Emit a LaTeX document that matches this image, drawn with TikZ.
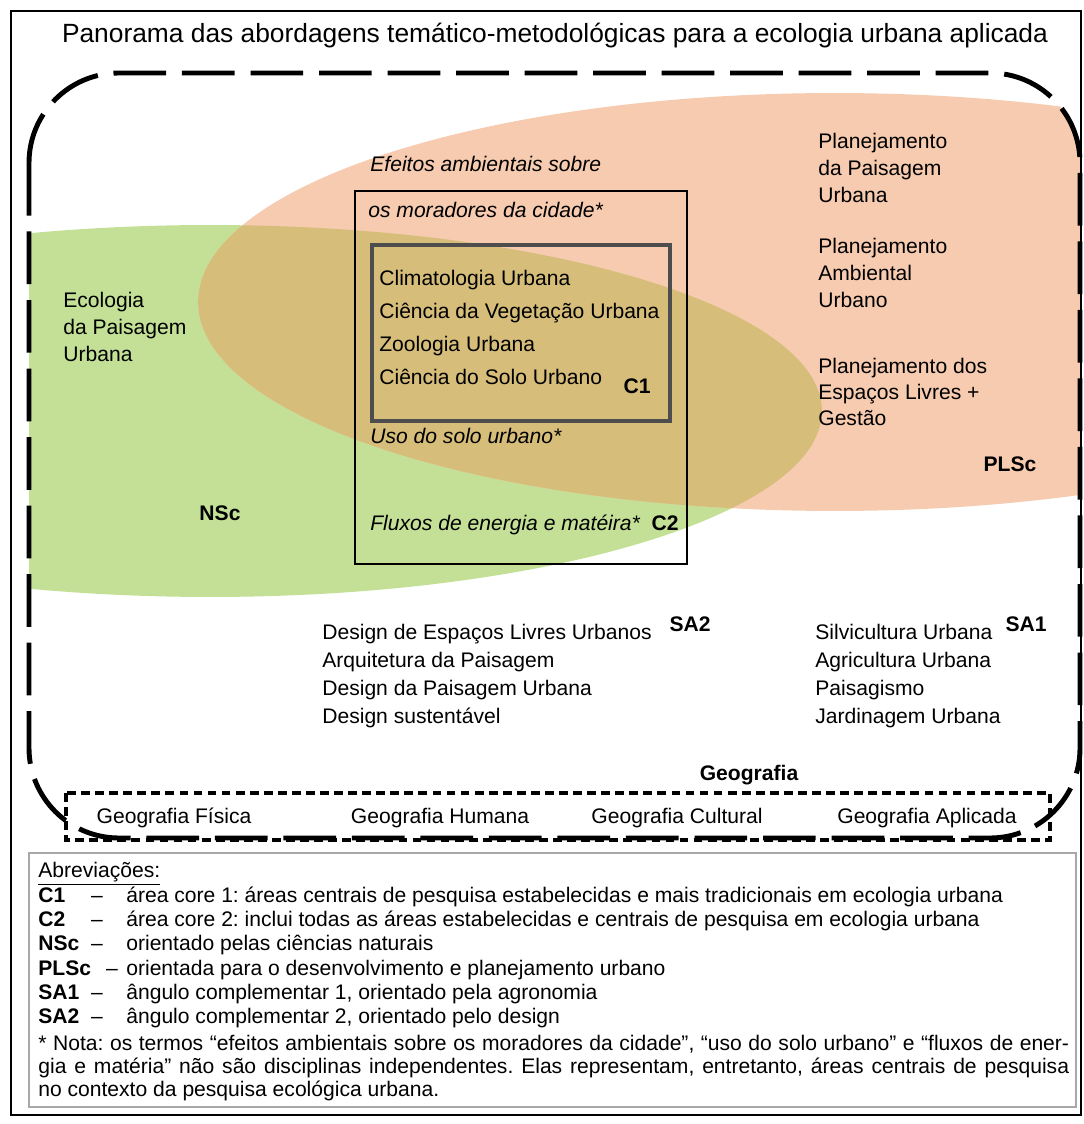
\documentclass[tikz,border=0pt]{standalone}
\usepackage{fontspec}
\setmainfont{Liberation Sans}
\frenchspacing
\definecolor{greenarea}{HTML}{C3E096}
\definecolor{orangearea}{HTML}{F6CBB0}
\definecolor{olivearea}{HTML}{D6BD7A}
\definecolor{coregray}{HTML}{4D4D4D}
\definecolor{legendgray}{HTML}{A8A8A8}
\tikzstyle{txt}=[inner sep=0pt,anchor=west,font=\fontsize{12}{14}\selectfont,text height=8.6pt,text depth=2.5pt]
\tikzstyle{txtit}=[txt,font=\fontsize{12}{14}\selectfont\itshape]
\tikzstyle{abbr}=[txt,anchor=center,font=\fontsize{12}{14}\selectfont\bfseries]
\tikzstyle{titletxt}=[inner sep=0pt,font=\fontsize{15}{18}\selectfont]
\tikzstyle{bigdash}=[line width=2.8pt,dash pattern=on 30pt off 9pt]
\tikzstyle{geodash}=[line width=2.2pt,dash pattern=on 5pt off 3pt]

\begin{document}
\begin{tikzpicture}[x=0.02cm,y=-0.02cm]
\useasboundingbox (0,0) rectangle (1083,1124);
\begin{scope}
\clip[rounded corners=1.8cm] (29,73) rectangle (1080,838);
\fill[greenarea] (210,411) ellipse [x radius=12.24cm,y radius=3.72cm];
\fill[orangearea] (835,302) ellipse [x radius=12.74cm,y radius=4.18cm];
\clip (210,411) ellipse [x radius=12.24cm,y radius=3.72cm];
\fill[olivearea] (835,302) ellipse [x radius=12.74cm,y radius=4.18cm];
\end{scope}
\draw[line width=1.1pt] (11,11) rectangle (1081,1115);
\node[titletxt] (title) at (555,36) {Panorama das abordagens temático-metodológicas para a ecologia urbana aplicada};

\draw[line width=1.2pt] (355,191) rectangle (687,564);
\draw[coregray,line width=2.8pt] (372,245) rectangle (670,421);
\node[txtit] (efeitos1) at (370,166) {Efeitos ambientais sobre};
\node[txtit] (efeitos2) at (368,212) {os moradores da cidade*};
\node[txt] (clima) at (379,280) {Climatologia Urbana};
\node[txt] (veget) at (379,313) {Ciência da Vegetação Urbana};
\node[txt] (zoo) at (379,346) {Zoologia Urbana};
\node[txt] (solo) at (379,379) {Ciência do Solo Urbano};
\node[abbr] (c1) at (637,388) {C1};
\node[txtit] (usosolo) at (370,438) {Uso do solo urbano*};
\node[txtit] (fluxos) at (370,525) {Fluxos de energia e matéira*};
\node[abbr] (c2) at (665,525) {C2};

\node[txt] (eco1) at (63,302) {Ecologia};
\node[txt] (eco2) at (63,329) {da Paisagem};
\node[txt] (eco3) at (63,356) {Urbana};
\node[abbr] (nsc) at (220,515) {NSc};

\node[txt] (plan1) at (818,143) {Planejamento};
\node[txt] (plan2) at (818,170) {da Paisagem};
\node[txt] (plan3) at (818,197) {Urbana};
\node[txt] (amb1) at (818,248) {Planejamento};
\node[txt] (amb2) at (818,275) {Ambiental};
\node[txt] (amb3) at (818,302) {Urbano};
\node[txt] (esp1) at (818,368) {Planejamento dos};
\node[txt] (esp2) at (818,394) {Espaços Livres +};
\node[txt] (esp3) at (818,420) {Gestão};
\node[abbr] (plsc) at (1010,466) {PLSc};

\node[txt] (des1) at (322,634) {Design de Espaços Livres Urbanos};
\node[txt] (des2) at (322,662) {Arquitetura da Paisagem};
\node[txt] (des3) at (322,690) {Design da Paisagem Urbana};
\node[txt] (des4) at (322,718) {Design sustentável};
\node[abbr] (sa2) at (690,626) {SA2};
\node[txt] (agr1) at (815,634) {Silvicultura Urbana};
\node[txt] (agr2) at (815,662) {Agricultura Urbana};
\node[txt] (agr3) at (815,690) {Paisagismo};
\node[txt] (agr4) at (815,718) {Jardinagem Urbana};
\node[abbr] (sa1) at (1026,626) {SA1};

\draw[bigdash,rounded corners=1.8cm] (29,73) rectangle (1080,838);
\draw[geodash] (66,793) rectangle (1050,840);
\node[abbr] (geo) at (749,775) {Geografia};
\node[txt,anchor=center] (geofis) at (174,818) {Geografia Física};
\node[txt,anchor=center] (geohum) at (440,818) {Geografia Humana};
\node[txt,anchor=center] (geocul) at (677,818) {Geografia Cultural};
\node[txt,anchor=center] (geoapl) at (927,818) {Geografia Aplicada};

\draw[legendgray,line width=1pt] (29,853) rectangle (1076,1107);
\node[txt] (abrev) at (38,872) {\underline{Abreviações:}};
\node[txt,font=\fontsize{12}{14}\selectfont\bfseries] (ab1) at (38,897) {C1};
\node[txt,font=\fontsize{12}{14}\selectfont\bfseries] (ab2) at (38,921) {C2};
\node[txt,font=\fontsize{12}{14}\selectfont\bfseries] (ab3) at (38,945) {NSc};
\node[txt,font=\fontsize{12}{14}\selectfont\bfseries] (ab4) at (38,970) {PLSc};
\node[txt,font=\fontsize{12}{14}\selectfont\bfseries] (ab5) at (38,994) {SA1};
\node[txt,font=\fontsize{12}{14}\selectfont\bfseries] (ab6) at (38,1018) {SA2};
\node[txt,anchor=center] (d1) at (97,897) {–};
\node[txt,anchor=center] (d2) at (97,921) {–};
\node[txt,anchor=center] (d3) at (97,945) {–};
\node[txt,anchor=center] (d4) at (112,970) {–};
\node[txt,anchor=center] (d5) at (97,994) {–};
\node[txt,anchor=center] (d6) at (97,1018) {–};
\node[txt] (def1) at (126,897) {área core 1: áreas centrais de pesquisa estabelecidas e mais tradicionais em ecologia urbana};
\node[txt] (def2) at (126,921) {área core 2: inclui todas as áreas estabelecidas e centrais de pesquisa em ecologia urbana};
\node[txt] (def3) at (126,945) {orientado pelas ciências naturais};
\node[txt] (def4) at (126,970) {orientada para o desenvolvimento e planejamento urbano};
\node[txt] (def5) at (126,994) {ângulo complementar 1, orientado pela agronomia};
\node[txt] (def6) at (126,1018) {ângulo complementar 2, orientado pelo design};
\node[txt] (nota1) at (38,1045) {\makebox[20.62cm][s]{* Nota: os termos “efeitos ambientais sobre os moradores da cidade”, “uso do solo urbano” e “fluxos de ener-}};
\node[txt] (nota2) at (38,1068) {\makebox[20.62cm][s]{gia e matéria” não são disciplinas independentes. Elas representam, entretanto, áreas centrais de pesquisa}};
\node[txt] (nota3) at (38,1091) {no contexto da pesquisa ecológica urbana.};
\end{tikzpicture}
\end{document}
